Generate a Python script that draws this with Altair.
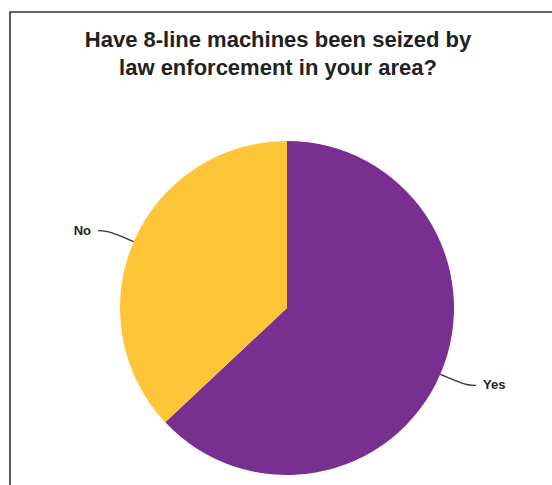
import altair as alt
import pandas as pd

# ---- data ----
CATEGORIES = ["Yes", "No"]
SHARES = [63, 37]
COLORS = ["#782F90", "#FDC537"]
TITLE_LINES = ["Have 8-line machines been seized by", "law enforcement in your area?"]

# ---- layout (pixels) ----
W, H = 552, 485
CX, CY, R = 287, 308, 167
ELBOW = 28      # radial length of the leader line
TAIL = 10       # horizontal tail of the leader line
GAP = 7         # gap between tail and label
FONT = "Liberation Sans"

df = pd.DataFrame({"answer": CATEGORIES, "share": SHARES, "ord": list(range(len(CATEGORIES)))})

base = (
    alt.Chart(df)
    .transform_joinaggregate(total="sum(share)")
    .transform_window(cum="sum(share)", sort=[alt.SortField("ord")], frame=[None, 0])
    .transform_calculate(mid="(datum.cum - datum.share / 2) / datum.total * 2 * PI")
    .transform_calculate(side="sin(datum.mid) >= 0 ? 1 : -1")
)

frame = (
    alt.Chart(pd.DataFrame({"k": [0]}))
    .mark_rect(fill=None, stroke="#333333", strokeWidth=1.6)
    .encode(x=alt.value(10), y=alt.value(12), x2=alt.value(W + 20), y2=alt.value(H + 20))
)

pie = (
    alt.Chart(df)
    .mark_arc(radius=R)
    .encode(
        theta=alt.Theta("share:Q", stack=True),
        order=alt.Order("ord:Q"),
        color=alt.Color("answer:N", scale=alt.Scale(domain=CATEGORIES, range=COLORS), legend=None),
        x=alt.value(CX),
        y=alt.value(CY),
    )
)

leader = (
    base.transform_calculate(pts="[0, 1, 2]")
    .transform_flatten(["pts"])
    .transform_calculate(r=f"datum.pts == 0 ? {R} : {R + ELBOW}")
    .transform_calculate(
        px=f"{CX} + datum.r * sin(datum.mid) + (datum.pts == 2 ? datum.side * {TAIL} : 0)",
        py=f"{CY} - datum.r * cos(datum.mid)",
    )
    .mark_line(interpolate="basis", color="#333333", strokeWidth=1.3)
    .encode(
        x=alt.X("px:Q", scale=None),
        y=alt.Y("py:Q", scale=None),
        detail="answer:N",
        order="pts:Q",
    )
)

labels_base = base.transform_calculate(
    px=f"{CX} + {R + ELBOW} * sin(datum.mid) + datum.side * {TAIL + GAP}",
    py=f"{CY} - {R + ELBOW} * cos(datum.mid)",
)
lab_right = (
    labels_base.transform_filter("datum.side > 0")
    .mark_text(align="left", baseline="middle", font=FONT, fontSize=13, fontWeight="bold", color="#222222")
    .encode(x=alt.X("px:Q", scale=None), y=alt.Y("py:Q", scale=None), text="answer:N")
)
lab_left = (
    labels_base.transform_filter("datum.side < 0")
    .mark_text(align="right", baseline="middle", font=FONT, fontSize=13, fontWeight="bold", color="#222222")
    .encode(x=alt.X("px:Q", scale=None), y=alt.Y("py:Q", scale=None), text="answer:N")
)

title_df = pd.DataFrame({"line": TITLE_LINES, "i": list(range(len(TITLE_LINES)))})
title = (
    alt.Chart(title_df)
    .transform_calculate(ty="47 + 28 * datum.i")
    .mark_text(align="center", baseline="alphabetic", font=FONT, fontSize=22, fontWeight="bold", color="#222222")
    .encode(x=alt.value(278), y=alt.Y("ty:Q", scale=None), text="line:N")
)

chart = (
    alt.layer(frame, pie, leader, lab_right, lab_left, title)
    .properties(width=W, height=H, autosize="none", padding=0, background="white")
    .configure_view(stroke=None)
)

chart.save("out.html", embed_options={"renderer": "svg", "actions": False})
